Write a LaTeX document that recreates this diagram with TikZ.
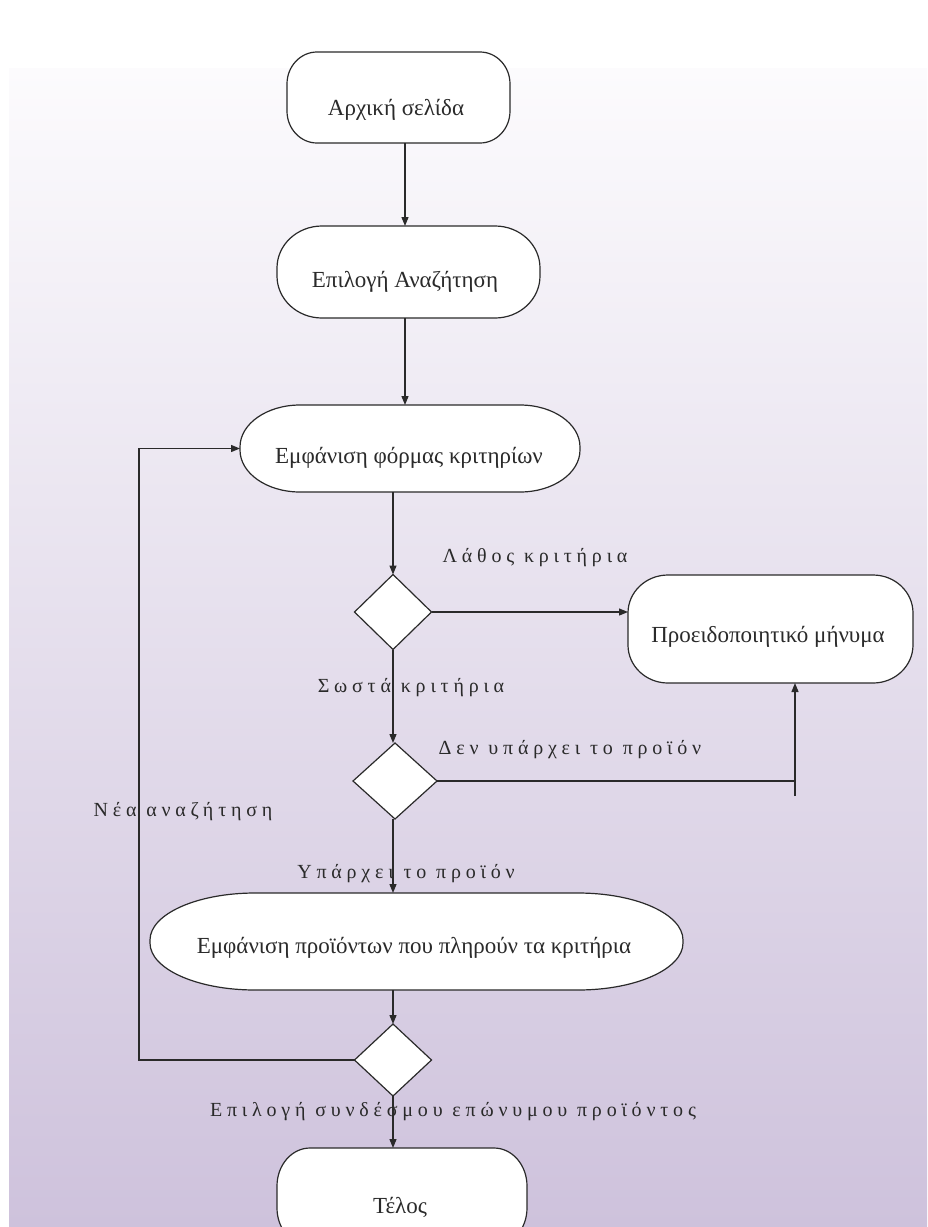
\documentclass[tikz,border=0pt]{standalone}
\usepackage{fontspec}
\setmainfont{Liberation Serif}
\usetikzlibrary{shapes.geometric,arrows.meta,calc}
\pgfdeclarelayer{backdrop}
\pgfdeclarelayer{shapes}
\pgfsetlayers{backdrop,shapes,main}

\definecolor{ink}{HTML}{2A2A2A}
\definecolor{lavtop}{HTML}{FCFBFD}
\definecolor{lavbot}{HTML}{CEC2DC}

\tikzset{
  slot/.style={draw=none, inner sep=0pt, outer sep=0pt},
  pillline/.style={draw=ink, fill=white, line width=1.2pt},
  boxtext/.style={font=\fontsize{23}{26}\selectfont, text=ink, inner sep=0pt},
  flowlabel/.style={font=\fontsize{20}{23}\selectfont\addfontfeature{LetterSpace=24},
                    text=ink, inner sep=0pt},
  decision/.style={diamond, draw=ink, fill=white, line width=1.2pt,
                   inner sep=0pt, outer sep=0pt},
  arr/.style={draw=ink, line width=1.3pt, -{Triangle[length=9pt,width=7pt]}},
  wire/.style={draw=ink, line width=1.3pt},
}

% outline with elliptical corners around a slot node: #1 node, #2 x radius, #3 y radius
\newcommand\pillshape[3]{%
  \begin{pgfonlayer}{shapes}
  \draw[pillline] ([xshift=#2]#1.north west) -- ([xshift=-#2]#1.north east)
    arc[start angle=90,end angle=0,x radius=#2,y radius=#3]
    -- ([yshift=#3]#1.south east)
    arc[start angle=0,end angle=-90,x radius=#2,y radius=#3]
    -- ([xshift=#2]#1.south west)
    arc[start angle=-90,end angle=-180,x radius=#2,y radius=#3]
    -- ([yshift=-#3]#1.north west)
    arc[start angle=180,end angle=90,x radius=#2,y radius=#3]
    -- cycle;
  \end{pgfonlayer}}

\begin{document}
\begin{tikzpicture}[x=1pt,y=-1pt]
\useasboundingbox (0,0) rectangle (927,1227);

% background
\begin{pgfonlayer}{backdrop}
  \fill[white] (0,0) rectangle (927,1227);
  \shade[top color=lavtop, bottom color=lavbot] (9,68) rectangle (927,1227);
\end{pgfonlayer}

% process boxes
\node[slot, minimum width=223pt, minimum height=91pt] (n1) at (398.5,97.5) {};
\node[slot, minimum width=263pt, minimum height=92pt] (n2) at (408.5,272) {};
\node[slot, minimum width=340pt, minimum height=87pt] (n3) at (410,448.5) {};
\node[slot, minimum width=285pt, minimum height=108pt] (n4) at (770.5,629) {};
\node[slot, minimum width=533pt, minimum height=97pt] (n5) at (416.5,941.5) {};
\node[slot, minimum width=250pt, minimum height=98pt] (n6) at (402,1197) {};

\pillshape{n1}{30pt}{32pt}
\pillshape{n2}{45pt}{42pt}
\pillshape{n3}{60pt}{42pt}
\pillshape{n4}{40pt}{38pt}
\pillshape{n5}{105pt}{47pt}
\pillshape{n6}{33pt}{38pt}

\node[boxtext] (t1) at (396,110) {Αρχική σελίδα};
\node[boxtext] (t2) at (405,282) {Επιλογή Αναζήτηση};
\node[boxtext] (t3) at (409,458) {Εμφάνιση φόρμας κριτηρίων};
\node[boxtext] (t4) at (768,637) {Προειδοποιητικό μήνυμα};
\node[boxtext] (t5) at (414,948) {Εμφάνιση προϊόντων που πληρούν τα κριτήρια};
\node[boxtext] (t6) at (400,1207) {Τέλος};

% decisions
\node[decision, minimum width=77pt, minimum height=75pt] (d1) at (393,612) {};
\node[decision, minimum width=84pt, minimum height=76pt] (d2) at (395,781) {};
\node[decision, minimum width=77pt, minimum height=72pt] (d3) at (393,1060) {};

% junction below the warning box
\coordinate (j) at (795,796);
% return path on the left
\coordinate (lp) at (139,448.5);

% connectors
\draw[arr] ([xshift=6.5pt]n1.south) -- ([xshift=6.5pt]n1.south |- n2.north);
\draw[arr] ([xshift=-3.5pt]n2.south) -- ([xshift=-3.5pt]n2.south |- n3.north);
\draw[arr] (d1.north |- n3.south) -- (d1.north);
\draw[arr] (d1.east) -- (d1.east -| n4.west);
\draw[arr] (d1.south) -- (d2.north -| d1.south);
\draw[wire] (d2.east) -- (d2.east -| j);
\draw[arr] (j) -- (j |- n4.south);
\draw[arr] (d2.south -| d1.south) -- (d1.south |- n5.north);
\draw[arr] (d3.north |- n5.south) -- (d3.north);
\draw[arr] (d3.west) -| (lp) -- (n3.west);
\draw[arr] (d3.south) -- (d3.south |- n6.north);

% branch labels
\node[flowlabel] (l1) at (535,558) {Λάθος κριτήρια};
\node[flowlabel] (l2) at (411,688) {Σωστά κριτήρια};
\node[flowlabel] (l3) at (570,750) {Δεν υπάρχει το προϊόν};
\node[flowlabel] (l4) at (183,812) {Νέα αναζήτηση};
\node[flowlabel] (l5) at (406,874) {Υπάρχει το προϊόν};
\node[flowlabel] (l6) at (453,1112) {Επιλογή συνδέσμου επώνυμου προϊόντος};
\end{tikzpicture}
\end{document}
